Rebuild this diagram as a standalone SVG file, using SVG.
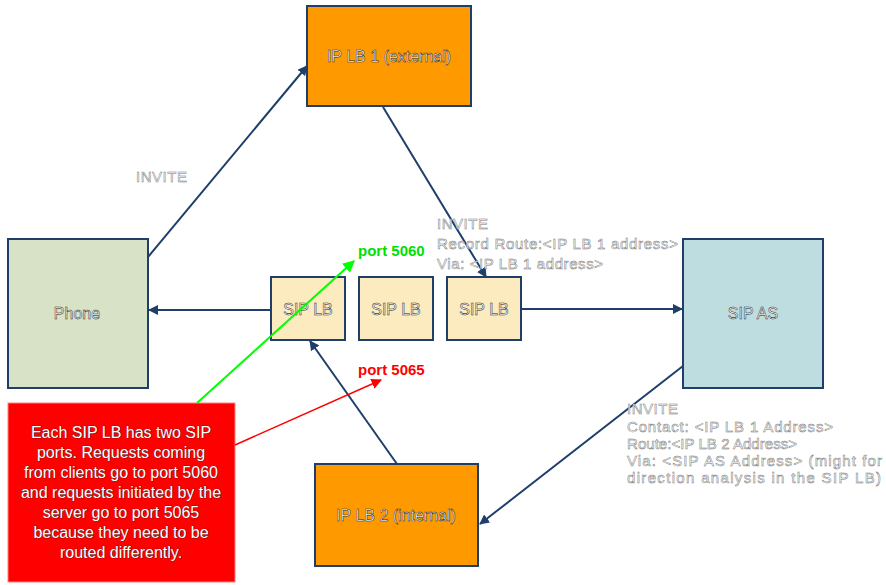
<svg xmlns="http://www.w3.org/2000/svg" width="886" height="585" viewBox="0 0 886 585">
<defs>
<marker id="ah" viewBox="0 0 10 10" refX="9" refY="5" markerWidth="5" markerHeight="5" orient="auto" markerUnits="strokeWidth"><path d="M0,0 L10,5 L0,10 z" fill="#1F3F6A"/></marker>
<marker id="ag" viewBox="0 0 10 10" refX="9" refY="5" markerWidth="6" markerHeight="6" orient="auto" markerUnits="strokeWidth"><path d="M0,0 L10,5 L0,10 z" fill="#00FF00"/></marker>
<marker id="ar" viewBox="0 0 10 10" refX="9" refY="5" markerWidth="7" markerHeight="7" orient="auto" markerUnits="strokeWidth"><path d="M0,0 L10,5 L0,10 z" fill="#FF0000"/></marker>
</defs>
<style>
.box{stroke:#1F3F6A;stroke-width:2}
.orange{fill:#FF9900}
.phone{fill:#D8E2C6}
.sip{fill:#FCEBBE}
.as{fill:#BEDDE0}
.lbl{font-family:"Liberation Sans",Arial,sans-serif;font-size:16px;fill:#fff;stroke:#222;stroke-width:0.5;text-anchor:middle}
.note{font-family:"Liberation Sans",Arial,sans-serif;font-size:15px;fill:#fff;stroke:#777;stroke-width:0.5}
.conn{stroke:#1F3F6A;stroke-width:2;fill:none;marker-end:url(#ah)}
.port{font-family:"Liberation Sans",Arial,sans-serif;font-size:15px;font-weight:bold}
.red{font-family:"Liberation Sans",Arial,sans-serif;font-size:16px;fill:#fff;stroke:#222;stroke-width:0.6;paint-order:stroke;text-anchor:middle}
</style>
<rect width="886" height="585" fill="#fff"/>
<g id="connectors">
<line class="conn" x1="148" y1="257" x2="307" y2="66"/>
<line class="conn" x1="383" y1="107" x2="486" y2="277"/>
<line class="conn" x1="271" y1="310" x2="149" y2="310"/>
<line class="conn" x1="521" y1="309" x2="682" y2="309"/>
<line class="conn" x1="683" y1="366" x2="480" y2="524"/>
<line class="conn" x1="397" y1="464" x2="310" y2="341"/>
</g>
<g id="iplb1"><rect class="box orange" x="307" y="6" width="164" height="100"/><text class="lbl" x="389" y="62">IP LB 1 (external)</text></g>
<g id="phone"><rect class="box phone" x="8" y="239" width="140" height="149"/><text class="lbl" x="77" y="319">Phone</text></g>
<g id="siplb1"><rect class="box sip" x="271" y="277" width="74" height="63"/><text class="lbl" x="308" y="315">SIP LB</text></g>
<g id="siplb2"><rect class="box sip" x="359" y="277" width="74" height="63"/><text class="lbl" x="396" y="315">SIP LB</text></g>
<g id="siplb3"><rect class="box sip" x="447" y="277" width="74" height="63"/><text class="lbl" x="484" y="315">SIP LB</text></g>
<g id="sipas"><rect class="box as" x="683" y="239" width="140" height="149"/><text class="lbl" x="753" y="319">SIP AS</text></g>
<g id="iplb2"><rect class="box orange" x="315" y="464" width="163" height="102"/><text class="lbl" x="396" y="521">IP LB 2 (internal)</text></g>
<g id="note"><rect x="8" y="403" width="227" height="179" fill="#FF0000" stroke="#FF8080" stroke-width="1"/>
<text class="red" x="121" y="438">Each SIP LB has two SIP</text>
<text class="red" x="121" y="458">ports. Requests coming</text>
<text class="red" x="121" y="478">from clients go to port 5060</text>
<text class="red" x="121" y="498">and requests initiated by the</text>
<text class="red" x="121" y="518">server go to port 5065</text>
<text class="red" x="121" y="538">because they need to be</text>
<text class="red" x="121" y="558">routed differently.</text>
</g>
<g id="pointers">
<line x1="197" y1="403" x2="354" y2="261" stroke="#00FF00" stroke-width="2" marker-end="url(#ag)"/>
<line x1="235" y1="445" x2="381" y2="380" stroke="#FF0000" stroke-width="1.5" marker-end="url(#ar)"/>
</g>
<g id="labels">
<text class="note" x="136" y="182" textLength="51">INVITE</text>
<text class="note" x="437" y="229" textLength="51">INVITE</text>
<text class="note" x="437" y="249" textLength="241">Record Route:&lt;IP LB 1 address&gt;</text>
<text class="note" x="437" y="269" textLength="166">Via: &lt;IP LB 1 address&gt;</text>
<text class="note" x="627" y="414" textLength="51">INVITE</text>
<text class="note" x="627" y="432" textLength="206">Contact: &lt;IP LB 1 Address&gt;</text>
<text class="note" x="627" y="449" textLength="170">Route:&lt;IP LB 2 Address&gt;</text>
<text class="note" x="627" y="466" textLength="255">Via: &lt;SIP AS Address&gt; (might for</text>
<text class="note" x="627" y="483" textLength="254">direction analysis in the SIP LB)</text>
<text class="port" x="358" y="256" fill="#00E000">port 5060</text>
<text class="port" x="358" y="375" fill="#FF0000">port 5065</text>
</g>
</svg>
